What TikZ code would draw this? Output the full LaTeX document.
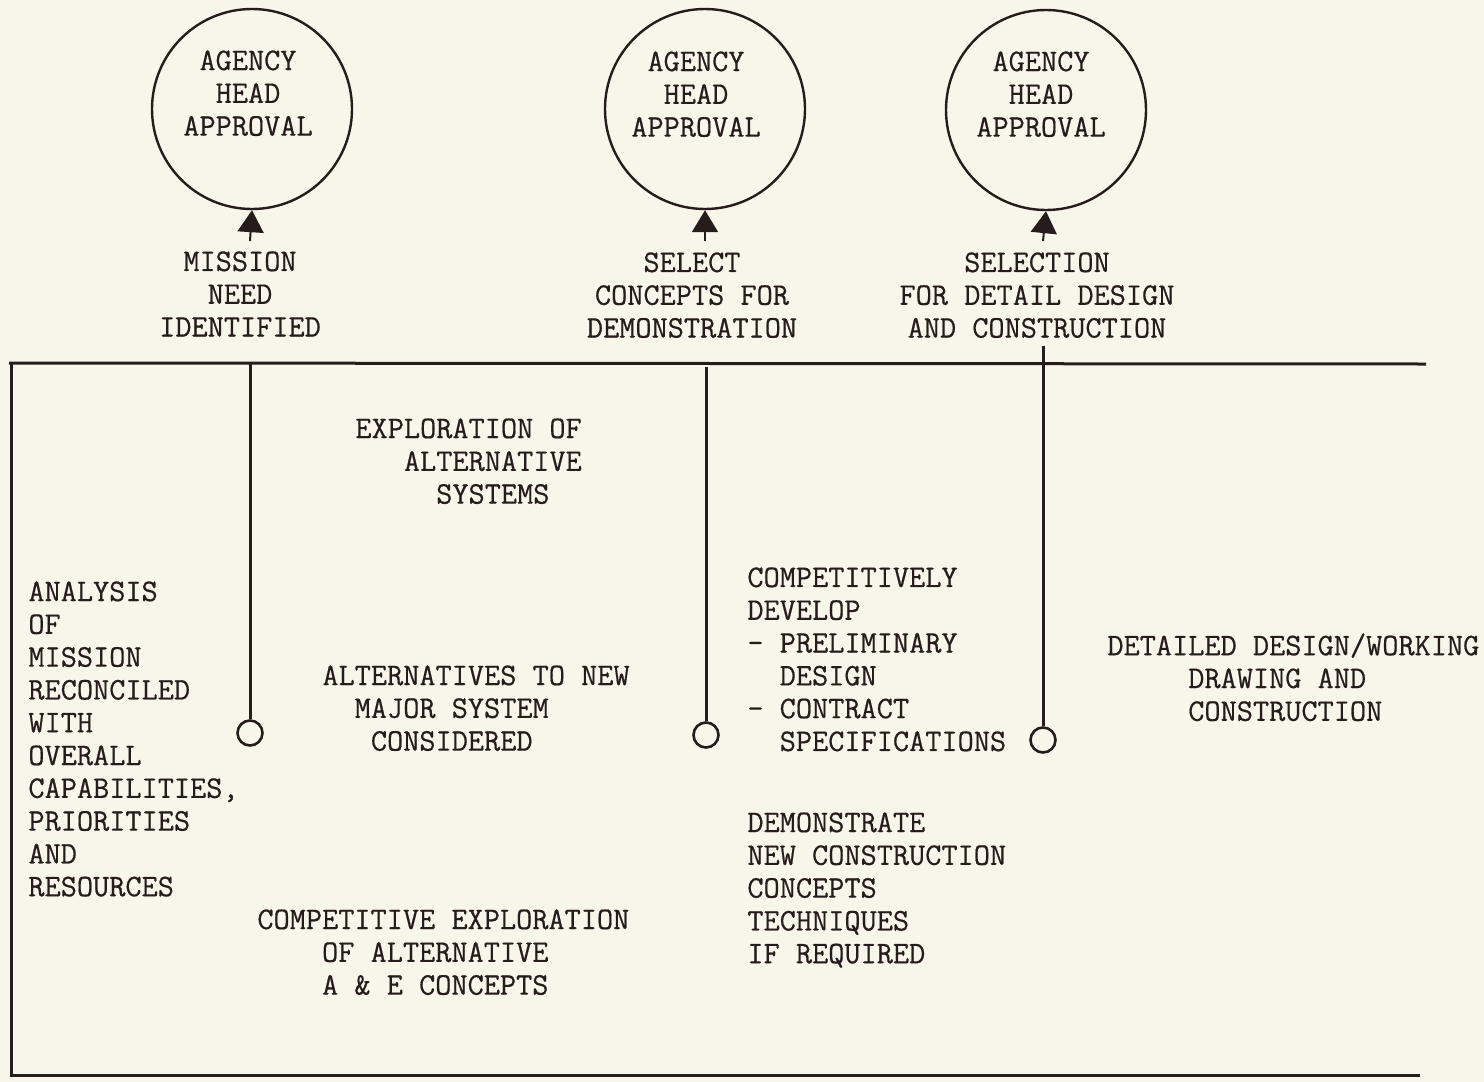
\documentclass[tikz,border=0pt]{standalone}
\usepackage{fontspec}
\setmonofont{Latin Modern Mono}[FakeBold=0.5]
\usetikzlibrary{arrows.meta}
\definecolor{paper}{RGB}{248,246,234}
\definecolor{ink}{RGB}{38,28,28}
\begin{document}
\begin{tikzpicture}[x=0.5pt,y=-0.5pt,
  every node/.style={text=ink},
  txt/.style={font={\ttfamily\fontsize{15.7}{16.4}\selectfont}, inner sep=0pt},
  lbl/.style={txt, align=left, anchor=north west},
  ctr/.style={txt, align=center, anchor=north},
  approval/.style={circle, draw=ink, line width=1.2pt, minimum size=100pt, inner sep=0pt},
  stop/.style={circle, draw=ink, line width=1.3pt, minimum size=12.5pt, inner sep=0pt},
  frame/.style={draw=ink, line width=1.5pt},
  stem/.style={draw=ink, line width=1pt, -{Triangle[length=11pt,width=13pt]}},
  phase/.style={draw=ink, line width=1.5pt}]
\fill[paper] (0,0) rectangle (1484,1082);
\useasboundingbox (0,0) rectangle (1484,1082);

% approval circles
\node[approval] (c1) at (252,109) {};
\node[approval] (c2) at (705,109) {};
\node[approval] (c3) at (1046,110) {};
\node[ctr] (c1t) at (248,50) {AGENCY\\HEAD\\APPROVAL};
\node[ctr] (c2t) at (696,51) {AGENCY\\HEAD\\APPROVAL};
\node[ctr] (c3t) at (1041,51) {AGENCY\\HEAD\\APPROVAL};

% arrows into the circles
\coordinate (a1) at (250,241);
\coordinate (a2) at (705,241);
\coordinate (a3) at (1043,241);
\draw[stem] (a1) -- (c1.south);
\draw[stem] (a2) -- (c2.south);
\draw[stem] (a3) -- (c3.south);

% milestone labels
\node[ctr] (m1) at (240,251) {MISSION\\NEED\\IDENTIFIED};
\node[ctr] (m2) at (692,252) {SELECT\\CONCEPTS FOR\\DEMONSTRATION};
\node[ctr] (m3) at (1037,252) {SELECTION\\FOR DETAIL DESIGN\\AND CONSTRUCTION};

% frame
\coordinate (tr) at (1426,364);
\coordinate (tl) at (9,363);
\coordinate (bl) at (11,1075);
\coordinate (br) at (1420,1075);
\draw[frame] (tr) -- (tl);
\draw[frame] (11,363) -- (bl) -- (br);

% phase boundaries
\node[stop] (s1) at (250,733) {};
\node[stop] (s2) at (706,735) {};
\node[stop] (s3) at (1043,740) {};
\coordinate (p1) at (250,363);
\coordinate (p2) at (706,367);
\coordinate (p3) at (1043,346);
\draw[phase] (p1) -- (s1.north);
\draw[phase] (p2) -- (s2.north);
\draw[phase] (p3) -- (s3.north);

% phase descriptions
\node[lbl] (analysis) at (28,581) {ANALYSIS\\OF\\MISSION\\RECONCILED\\WITH\\OVERALL\\CAPABILITIES,\\PRIORITIES\\AND\\RESOURCES};
\node[lbl] (explore) at (355,418) {EXPLORATION OF\\~~~ALTERNATIVE\\~~~~~SYSTEMS};
\node[lbl] (altnew) at (322,665) {ALTERNATIVES TO NEW\\~~MAJOR SYSTEM\\~~~CONSIDERED};
\node[lbl] (compexp) at (257,909) {COMPETITIVE EXPLORATION\\~~~~OF ALTERNATIVE\\~~~~A \& E CONCEPTS};
\node[lbl] (compdev) at (747,567) {COMPETITIVELY\\DEVELOP\\- PRELIMINARY\\~~DESIGN\\- CONTRACT\\~~SPECIFICATIONS};
\node[lbl] (demo) at (747,812) {DEMONSTRATE\\NEW CONSTRUCTION\\CONCEPTS\\TECHNIQUES\\IF REQUIRED};
\node[lbl] (detail) at (1107,633) {DETAILED DESIGN/WORKING\\~~~~~DRAWING AND\\~~~~~CONSTRUCTION};
\end{tikzpicture}
\end{document}
